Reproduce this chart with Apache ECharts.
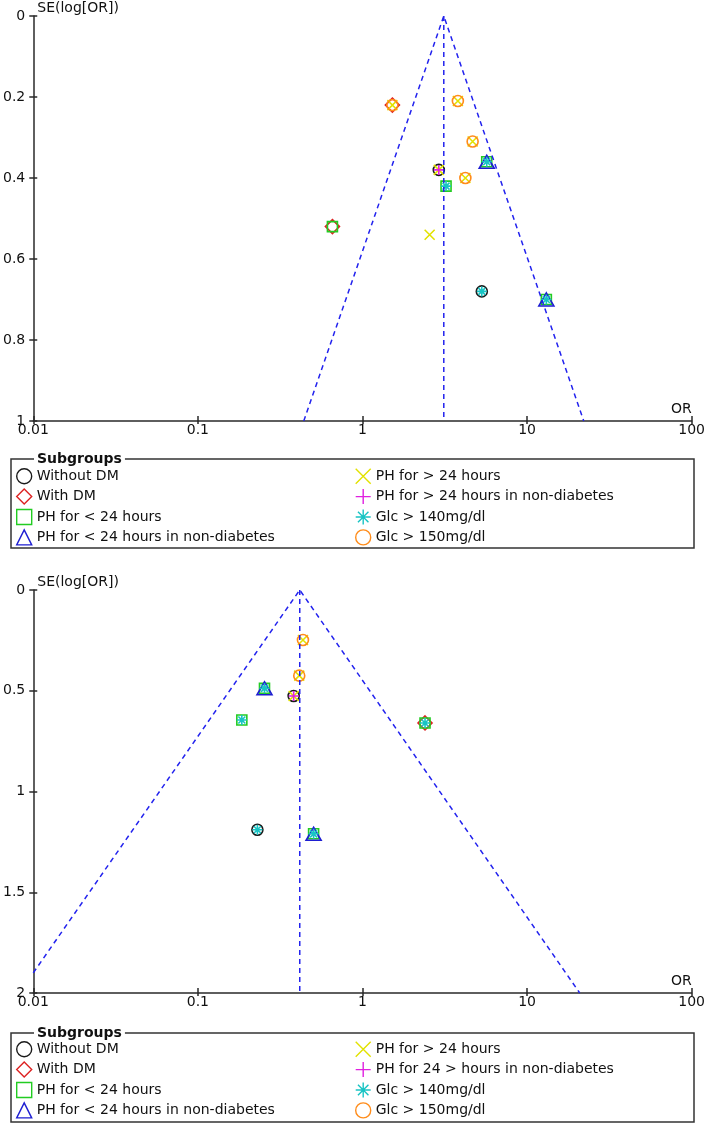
<!DOCTYPE html>
<html>
<head>
<meta charset="utf-8">
<script src="https://cdn.jsdelivr.net/npm/echarts@6/dist/echarts.min.js"></script>
<style>
  html, body { margin: 0; padding: 0; background: #fff; }
  #chart { width: 708px; height: 1125px; }
</style>
</head>
<body>
<div id="chart"></div>
<script>
// subgroup names (the lower plot has a slightly different 6th label)
const namesTop = ['Without DM', 'With DM', 'PH for < 24 hours', 'PH for < 24 hours in non-diabetes',
  'PH for > 24 hours', 'PH for > 24 hours in non-diabetes', 'Glc > 140mg/dl', 'Glc > 150mg/dl']
const namesBottom = ['Without DM', 'With DM', 'PH for < 24 hours', 'PH for < 24 hours in non-diabetes',
  'PH for > 24 hours', 'PH for 24 > hours in non-diabetes', 'Glc > 140mg/dl', 'Glc > 150mg/dl']

// [OR, SE(log OR)] per subgroup, upper funnel plot
const topWithoutDM = [[2.91, 0.38], [5.31, 0.68]]
const topWithDM = [[1.52, 0.22], [0.657, 0.52]]
const topPhLess24 = [[5.69, 0.36], [3.22, 0.42], [13.1, 0.70], [0.657, 0.52]]
const topPhLess24NonDM = [[5.69, 0.36], [13.1, 0.70]]
const topPhMore24 = [[1.52, 0.22], [3.80, 0.21], [4.67, 0.31], [2.91, 0.38], [4.22, 0.40], [2.56, 0.54]]
const topPhMore24NonDM = [[2.91, 0.38]]
const topGlc140 = [[5.69, 0.36], [3.22, 0.42], [5.31, 0.68], [13.1, 0.70]]
const topGlc150 = [[1.52, 0.22], [3.80, 0.21], [4.67, 0.31], [4.22, 0.40]]

// lower funnel plot
const botWithoutDM = [[0.382, 0.526], [0.230, 1.19]]
const botWithDM = [[2.40, 0.66]]
const botPhLess24 = [[0.254, 0.488], [0.185, 0.645], [2.40, 0.66], [0.505, 1.21]]
const botPhLess24NonDM = [[0.254, 0.488], [0.505, 1.21]]
const botPhMore24 = [[0.435, 0.248], [0.413, 0.425], [0.382, 0.526]]
const botPhMore24NonDM = [[0.382, 0.526]]
const botGlc140 = [[0.254, 0.488], [0.185, 0.645], [2.40, 0.66], [0.230, 1.19], [0.505, 1.21]]
const botGlc150 = [[0.435, 0.248], [0.413, 0.425]]

// funnel outlines and pooled-estimate lines
const topFunnel = [[0.44, 1], [3.12, 0], [22.1, 1]]
const topPooled = [[3.12, 0], [3.12, 1]]
const botFunnel = [[0.01, 1.90], [0.416, 0], [20.9, 2]]
const botPooled = [[0.416, 0], [0.416, 2]]

// axis ticks
const xTicks = ['0.01', '0.1', '1', '10', '100']
const topYMax = 1
const topYStep = 0.2
const botYMax = 2
const botYStep = 0.5

const markers = [
  { symbol: 'circle', size: 11, color: '#1a1a1a' },
  { symbol: 'diamond', size: 14, color: '#dd2222' },
  { symbol: 'rect', size: 10, color: '#22cc22' },
  { symbol: 'triangle', size: [15, 13], color: '#1e1ed2' },
  { symbol: 'path://M0,0L10,10M10,0L0,10', size: 10, color: '#e2e200' },
  { symbol: 'path://M5,0L5,10M0,5L10,5', size: 10, color: '#e020e0' },
  { symbol: 'path://M5,0L5,10M0,5L10,5M1.5,1.5L8.5,8.5M8.5,1.5L1.5,8.5', size: 10, color: '#18c4c4' },
  { symbol: 'circle', size: 11, color: '#ff8c1a' }
]

const topData = [topWithoutDM, topWithDM, topPhLess24, topPhLess24NonDM, topPhMore24, topPhMore24NonDM, topGlc140, topGlc150]
const botData = [botWithoutDM, botWithDM, botPhLess24, botPhLess24NonDM, botPhMore24, botPhMore24NonDM, botGlc140, botGlc150]

const font = 'DejaVu Sans'
const axisColor = '#2a2a2a'
const funnelLine = { color: '#2222ee', width: 1.5, type: [5, 4] }

function xAxisPair(grid) {
  const base = {
    type: 'log', logBase: 10, min: 0.01, max: 100, gridIndex: grid, position: 'bottom',
    splitLine: { show: false }
  }
  return [
    Object.assign({}, base, {
      name: 'OR', nameLocation: 'end', nameGap: 0,
      nameTextStyle: { fontFamily: font, fontSize: 14, color: '#111', align: 'right', verticalAlign: 'bottom', padding: [0, 0, 5, 0] },
      axisLine: { onZero: false, lineStyle: { color: axisColor, width: 1.5 } },
      axisTick: { length: 3, lineStyle: { color: axisColor, width: 1.5 } },
      axisLabel: { margin: 2, fontFamily: font, fontSize: 14, color: '#111',
        formatter: v => xTicks.find(t => Math.abs(Number(t) - v) < v * 1e-6) || '' }
    }),
    Object.assign({}, base, {
      axisLine: { show: false, onZero: false },
      axisTick: { inside: true, length: 5, lineStyle: { color: axisColor, width: 1.5 } },
      axisLabel: { show: false }
    })
  ]
}

function yAxisPair(grid, max, step) {
  const base = {
    type: 'value', min: 0, max: max, interval: step, inverse: true, gridIndex: grid, position: 'left',
    splitLine: { show: false }
  }
  return [
    Object.assign({}, base, {
      name: 'SE(log[OR])', nameLocation: 'start', nameGap: 8,
      nameTextStyle: { fontFamily: font, fontSize: 14, color: '#111', align: 'left', verticalAlign: 'middle', padding: [0, 0, 0, 4] },
      axisLine: { onZero: false, lineStyle: { color: axisColor, width: 1.5 } },
      axisTick: { length: 4, lineStyle: { color: axisColor, width: 1.5 } },
      axisLabel: { margin: 8, fontFamily: font, fontSize: 14, color: '#111' }
    }),
    Object.assign({}, base, {
      axisLine: { show: false, onZero: false },
      axisTick: { inside: true, length: 4, lineStyle: { color: axisColor, width: 1.5 } },
      axisLabel: { show: false }
    })
  ]
}

function buildSeries(names, data, axisIdx, funnel, pooled) {
  const out = [
    { type: 'line', data: funnel, xAxisIndex: axisIdx, yAxisIndex: axisIdx, symbol: 'none', silent: true,
      lineStyle: funnelLine },
    { type: 'line', data: pooled, xAxisIndex: axisIdx, yAxisIndex: axisIdx, symbol: 'none', silent: true,
      lineStyle: funnelLine }
  ]
  names.forEach((n, i) => {
    const m = markers[i]
    out.push({
      name: n, type: 'scatter', data: data[i], xAxisIndex: axisIdx, yAxisIndex: axisIdx,
      symbol: m.symbol, symbolSize: m.size, silent: true,
      itemStyle: { color: 'rgba(0,0,0,0)', borderColor: m.color, borderWidth: 1.6, opacity: 1 }
    })
  })
  return out
}

function legendPair(names, top) {
  const common = {
    orient: 'vertical', top: top, padding: 0, itemWidth: 15, itemHeight: 15, itemGap: 4,
    selectedMode: false,
    itemStyle: { borderWidth: 1.4 },
    textStyle: { fontFamily: font, fontSize: 14, color: '#111', lineHeight: 15 }
  }
  return [
    Object.assign({ left: 16, data: names.slice(0, 4) }, common),
    Object.assign({ left: 355, data: names.slice(4) }, common)
  ]
}

function legendBox(y) {
  return [
    { type: 'rect', shape: { x: 11, y: y, width: 683, height: 89 },
      style: { fill: 'none', stroke: '#333', lineWidth: 1.5 }, silent: true },
    { type: 'text', x: 34, y: y, silent: true,
      style: { text: 'Subgroups', fontFamily: font, fontSize: 14, fontWeight: 'bold', fill: '#111',
        verticalAlign: 'middle', backgroundColor: '#fff', padding: [0, 3] } }
  ]
}

const chart = echarts.init(document.getElementById('chart'))
chart.setOption({
  animation: false,
  grid: [
    { left: 30, right: 14, top: 16, height: 405 },
    { left: 30, right: 14, top: 590, height: 403 }
  ],
  xAxis: xAxisPair(0).concat(xAxisPair(1)),
  yAxis: yAxisPair(0, topYMax, topYStep).concat(yAxisPair(1, botYMax, botYStep)),
  legend: legendPair(namesTop, 468).concat(legendPair(namesBottom, 1041)),
  graphic: legendBox(459).concat(legendBox(1033)),
  series: buildSeries(namesTop, topData, 0, topFunnel, topPooled)
    .concat(buildSeries(namesBottom, botData, 2, botFunnel, botPooled))
})
</script>
</body>
</html>
